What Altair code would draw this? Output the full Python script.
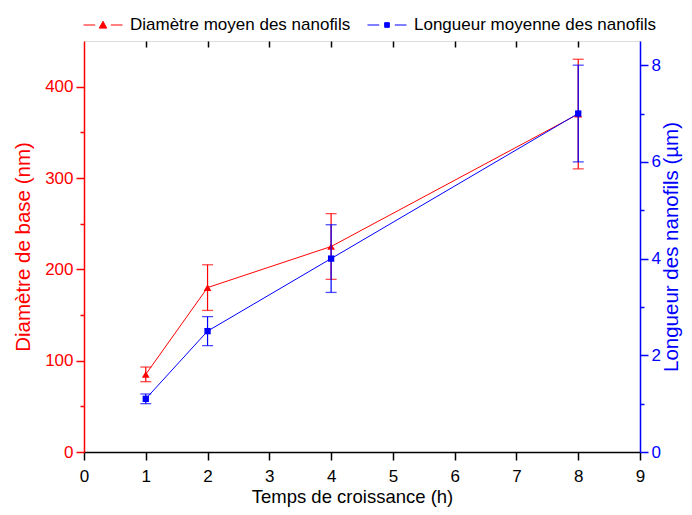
import altair as alt
import pandas as pd

# ---- data ----
time_h = [1, 2, 4, 8]
diam_nm = [85, 180, 225, 370]
diam_err = [8, 25, 36, 60]
length_um = [1.1, 2.5, 4.0, 7.0]
length_err = [0.1, 0.3, 0.7, 1.0]
series_names = ["Diamètre moyen des nanofils", "Longueur moyenne des nanofils"]

x_ticks = [0, 0.5, 1, 1.5, 2, 2.5, 3, 3.5, 4, 4.5, 5, 5.5, 6, 6.5, 7, 7.5, 8, 8.5, 9]
x_top = [1, 2, 3, 4, 5, 6, 7, 8]
left_ticks = [0, 50, 100, 150, 200, 250, 300, 350, 400]
right_ticks = [0, 1, 2, 3, 4, 5, 6, 7, 8]

RED = "#ff0000"
BLUE = "#0000ff"
FONT = "Liberation Sans"

df_d = pd.DataFrame({
    "t": time_h,
    "v": diam_nm,
    "lo": [v - e for v, e in zip(diam_nm, diam_err)],
    "hi": [v + e for v, e in zip(diam_nm, diam_err)],
    "series": series_names[0],
})
df_l = pd.DataFrame({
    "t": time_h,
    "v": length_um,
    "lo": [v - e for v, e in zip(length_um, length_err)],
    "hi": [v + e for v, e in zip(length_um, length_err)],
    "series": series_names[1],
})
df_all = pd.concat([df_d, df_l], ignore_index=True)

xs = alt.Scale(domain=[0, 9], nice=False, zero=False)
ys_d = alt.Scale(domain=[0, 450], nice=False, zero=False)
ys_l = alt.Scale(domain=[0, 8.5], nice=False, zero=False)

X_none = alt.X("t:Q", scale=xs, axis=None)

axis_common = dict(labelFont=FONT, titleFont=FONT, labelFontSize=17,
                   titleFontWeight="normal", grid=False, tickWidth=1.5, domainWidth=1.5,
                   labelFlush=False, labelOverlap=False, format="d")

# ---------------- diameter (red, left) ----------------
base_d = alt.Chart(df_d)

d_line = base_d.mark_line(color=RED, strokeWidth=1).encode(
    x=alt.X("t:Q", scale=xs, axis=alt.Axis(
        values=x_ticks,
        tickSize={"condition": {"test": "datum.value % 1 != 0", "value": 4}, "value": 8},
        labelExpr="datum.value % 1 != 0 ? '' : datum.label",
        labelPadding=8, domainColor="black", tickColor="black",
        labelColor="black", title="Temps de croissance (h)", titleColor="black",
        titleFontSize=18.5, titlePadding=3, titleX=268, **axis_common)),
    y=alt.Y("v:Q", scale=ys_d, axis=alt.Axis(
        values=left_ticks, orient="left",
        tickSize={"condition": {"test": "datum.value % 100 != 0", "value": 4}, "value": 8},
        labelExpr="datum.value % 100 != 0 ? '' : datum.label",
        labelPadding=3, domainColor=RED,
        tickColor=RED, labelColor=RED, title="Diamètre de base (nm)", titleColor=RED,
        titleFontSize=20.5, titlePadding=11, **axis_common)),
)
d_rule = base_d.mark_rule(color=RED, strokeWidth=1.2).encode(
    x=X_none, y=alt.Y("lo:Q", scale=ys_d, axis=None), y2="hi:Q")
d_caps = base_d.transform_fold(["lo", "hi"], as_=["k", "cap"]).mark_tick(
    color=RED, orient="horizontal", size=11, thickness=1.3).encode(
    x=X_none, y=alt.Y("cap:Q", scale=ys_d, axis=None))
d_pts = base_d.mark_point(shape="triangle-up", filled=True, color=RED, size=60, opacity=1).encode(
    x=alt.X("t:Q", scale=xs, axis=alt.Axis(
        values=x_top, orient="top", tickSize={"expr": "-6"}, labels=False, domain=False,
        title=None, tickColor="black", **axis_common)),
    y=alt.Y("v:Q", scale=ys_d, axis=None),
)

# ---------------- length (blue, right) ----------------
base_l = alt.Chart(df_l)
l_line = base_l.mark_line(color=BLUE, strokeWidth=1).encode(
    x=X_none,
    y=alt.Y("v:Q", scale=ys_l, axis=alt.Axis(
        values=right_ticks, orient="right",
        tickSize={"condition": {"test": "datum.value % 2 != 0", "value": 4}, "value": 8},
        labelExpr="datum.value % 2 != 0 ? '' : datum.label",
        labelPadding=3, domainColor=BLUE,
        tickColor=BLUE, labelColor=BLUE, title="Longueur des nanofils (µm)", titleColor=BLUE,
        titleFontSize=20.5, titleAngle=270, titlePadding=1, titleBaseline="top",
        **axis_common)),
)
l_rule = base_l.mark_rule(color=BLUE, strokeWidth=1.2).encode(
    x=X_none, y=alt.Y("lo:Q", scale=ys_l, axis=None), y2="hi:Q")
l_caps = base_l.transform_fold(["lo", "hi"], as_=["k", "cap"]).mark_tick(
    color=BLUE, orient="horizontal", size=11, thickness=1.3).encode(
    x=X_none, y=alt.Y("cap:Q", scale=ys_l, axis=None))
l_pts = base_l.mark_point(shape="square", filled=True, color=BLUE, size=40, opacity=1).encode(
    x=X_none, y=alt.Y("v:Q", scale=ys_l, axis=None))

# ---------------- legend layer (invisible points) ----------------
tri_path = "M-1,0L-0.4,0M0.4,0L1,0M-0.19,0.16L0,-0.19L0.19,0.16Z"
sq_path = "M-1,0L-0.4,0M0.4,0L1,0M-0.12,-0.12L0.12,-0.12L0.12,0.12L-0.12,0.12Z"
legend_def = alt.Legend(
    orient="none", legendX=-1, legendY=-36, direction="horizontal",
    title=None, symbolSize=1521, symbolStrokeWidth=1, symbolOpacity=1,
    labelFont=FONT, labelFontSize=17, labelColor="black", labelOffset=7,
    columnPadding=14, labelLimit=400)
legend_layer = alt.Chart(df_all).mark_point(size=0, filled=True, strokeWidth=1).encode(
    x=X_none,
    y=alt.Y("v:Q", axis=None),
    fill=alt.Fill("series:N", scale=alt.Scale(domain=series_names, range=[RED, BLUE]),
                  legend=legend_def),
    stroke=alt.Stroke("series:N", scale=alt.Scale(domain=series_names, range=[RED, BLUE]),
                      legend=legend_def),
    shape=alt.Shape("series:N", scale=alt.Scale(domain=series_names, range=[tri_path, sq_path]),
                    legend=legend_def),
)

chart = alt.layer(
    d_line, d_rule, d_caps, d_pts, l_line, l_rule, l_caps, l_pts, legend_layer
).resolve_scale(
    y="independent"
).resolve_axis(
    x="independent", y="independent"
).properties(
    width=556, height=411,
    autosize=alt.AutoSizeParams(type="none"),
    padding={"left": 76, "top": 33, "right": 44, "bottom": 55},
).configure_view(
    stroke="black", strokeWidth=1.5
).configure(background="white")

chart.save("out.html", embed_options={"renderer": "svg", "actions": False})
